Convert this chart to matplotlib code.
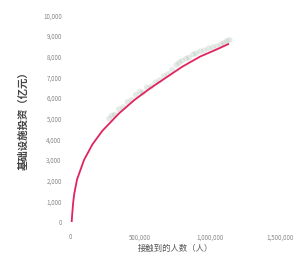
import matplotlib
matplotlib.use("Agg")
import matplotlib.pyplot as plt
import matplotlib.ticker as mticker

plt.rcParams['font.family'] = ['Noto Sans CJK SC', 'DejaVu Sans']

# ── Data ───────────────────────────────────────────────────────────────────────
# observed points (x in people, y in 亿元)
obs_x = [280000, 300000, 320000, 350000, 380000, 410000, 440000, 470000, 500000,
         520000, 550000, 580000, 610000, 640000, 670000, 700000, 730000, 760000,
         780000, 800000, 830000, 850000, 880000, 900000, 930000, 960000, 990000,
         1020000, 1050000, 1080000, 1100000, 1120000, 1140000]
obs_y = [5000, 5150, 5200, 5450, 5550, 5800, 5900, 6150, 6300,
         6250, 6500, 6550, 6750, 6850, 7050, 7150, 7350, 7600,
         7700, 7800, 7900, 7950, 8100, 8150, 8250, 8300, 8400,
         8450, 8500, 8600, 8650, 8750, 8800]

# fitted curve
fit_x = [12000, 16000, 22000, 30000, 50000, 100000, 160000, 230000, 350000, 460000,
         570000, 690000, 800000, 930000, 1050000, 1130000]
fit_y = [0, 400, 900, 1350, 2050, 3000, 3750, 4400, 5250, 5900,
         6450, 7000, 7500, 8000, 8350, 8600]

x_ticks = [0, 500000, 1000000, 1500000]
y_ticks = list(range(0, 10001, 1000))

fig = plt.figure(figsize=(3.03, 2.57), dpi=100)
ax = fig.add_axes([0.231, 0.136, 0.693, 0.805])

ax.scatter(obs_x, obs_y, s=18, color="#a8bcb0", alpha=0.3, edgecolors="none")
ax.plot(fit_x, fit_y, color="#e0245e", linewidth=1.3)

ax.set_xlim(0, 1500000)
ax.set_ylim(0, 10000)
ax.set_xticks(x_ticks)
ax.set_yticks(y_ticks)
ax.xaxis.set_major_formatter(mticker.FuncFormatter(lambda v, _: f"{v:,.0f}"))
ax.yaxis.set_major_formatter(mticker.FuncFormatter(lambda v, _: f"{v:,.0f}"))
ax.tick_params(axis="both", length=0, labelsize=4.5, labelcolor="#888888")
ax.tick_params(axis="x", pad=8)
ax.tick_params(axis="y", pad=6)
for s in ax.spines.values():
    s.set_visible(False)

ax.set_xlabel("接触到的人数（人）", fontsize=6, color="#555555", labelpad=2)
ax.set_ylabel("基础设施投资（亿元）", fontsize=7.5, color="#444444",
              fontweight="bold", labelpad=10)

fig.savefig("out.png", dpi=100)
